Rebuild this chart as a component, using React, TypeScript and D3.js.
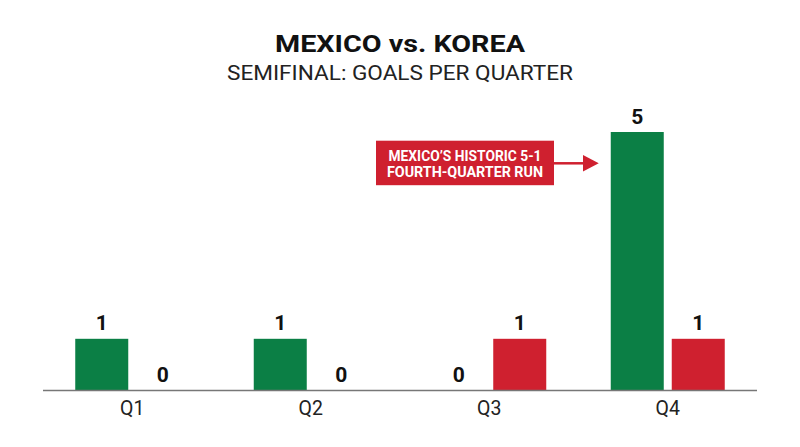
import React from "react";
import * as d3 from "d3";

const quarters = ["Q1", "Q2", "Q3", "Q4"];
const teams = ["Mexico", "Korea"];
const mexicoGoals = [1, 1, 0, 5];
const koreaGoals = [0, 0, 1, 1];
const teamColors = ["#0b7f45", "#cf202f"];
const titleText = "MEXICO vs. KOREA";
const subtitleText = "SEMIFINAL: GOALS PER QUARTER";
const noteLines = ["MEXICO\u2019S HISTORIC 5-1", "FOURTH-QUARTER RUN"];

const W = 800;
const H = 447;
const FONT = "Roboto, 'Noto Sans', sans-serif";

export default function App() {
  const x = d3.scaleBand<string>().domain(quarters).range([43, 757]).padding(0);
  const xi = d3
    .scaleBand<string>()
    .domain(teams)
    .range([x.bandwidth() / 2 - 57, x.bandwidth() / 2 + 57])
    .paddingInner(0.131)
    .paddingOuter(0);
  const y = d3.scaleLinear().domain([0, 5]).range([390.5, 132]);
  const series = [mexicoGoals, koreaGoals];

  const q4x = (x("Q4") ?? 0) + (xi("Mexico") ?? 0);
  const arrowY = 163.3;

  return (
    <svg width={W} height={H} style={{ position: "absolute", left: 0, top: 0, background: "#fff" }}>
      <text x={400} y={51.7} textAnchor="middle" fontFamily={FONT} fontWeight={700} fontSize={23.5} fill="#111" textLength={250} lengthAdjust="spacingAndGlyphs">
        {titleText}
      </text>
      <text x={400} y={80} textAnchor="middle" fontFamily={FONT} fontWeight={400} fontSize={20.5} fill="#222" textLength={346} lengthAdjust="spacingAndGlyphs">
        {subtitleText}
      </text>

      {quarters.map((q, qi) => (
        <g key={q} transform={`translate(${x(q)},0)`}>
          {teams.map((t, ti) => {
            const v = series[ti][qi];
            const bx = xi(t) ?? 0;
            return (
              <g key={t}>
                {v > 0 && (
                  <rect x={bx} y={y(v)} width={xi.bandwidth()} height={y(0) - y(v)} fill={teamColors[ti]} />
                )}
                <text x={bx + xi.bandwidth() / 2} y={y(v) - 8.5} textAnchor="middle" fontFamily={FONT} fontWeight={700} fontSize={21} fill="#111">
                  {v}
                </text>
              </g>
            );
          })}
          <text x={x.bandwidth() / 2} y={415} textAnchor="middle" fontFamily={FONT} fontWeight={400} fontSize={19.5} fill="#222">
            {q}
          </text>
        </g>
      ))}

      <line x1={43} x2={757} y1={y(0)} y2={y(0)} stroke="#777" strokeWidth={1.5} />

      <rect x={376} y={140.7} width={178} height={44.5} fill="#cf202f" />
      {noteLines.map((l, i) => (
        <text key={i} x={465} y={160.5 + i * 16} textAnchor="middle" fontFamily={FONT} fontWeight={700} fontSize={14.5} fill="#fff" textLength={i === 0 ? 153 : 156} lengthAdjust="spacingAndGlyphs">
          {l}
        </text>
      ))}
      <line x1={554} x2={585} y1={arrowY} y2={arrowY} stroke="#cf202f" strokeWidth={2.5} />
      <path d={`M${583},${arrowY - 8.3}L${q4x - 12},${arrowY}L${583},${arrowY + 8.3}Z`} fill="#cf202f" />
    </svg>
  );
}
